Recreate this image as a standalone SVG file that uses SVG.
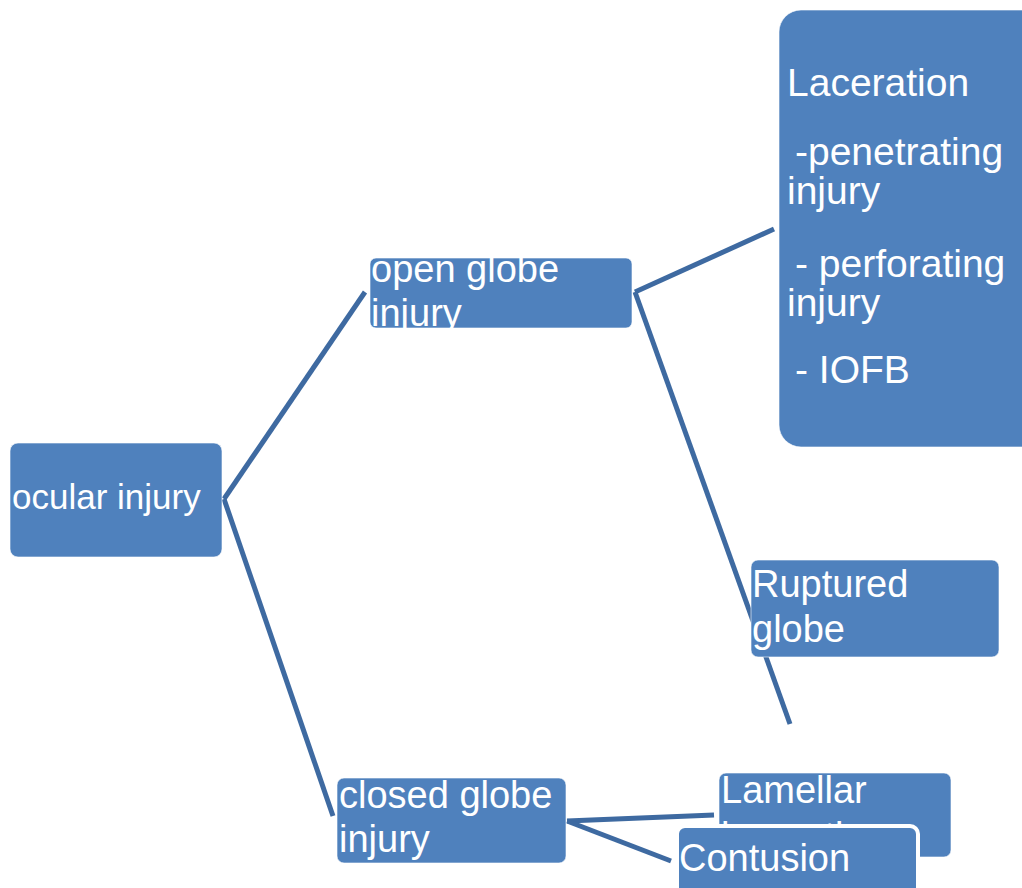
<svg xmlns="http://www.w3.org/2000/svg" width="1022" height="888" viewBox="0 0 1022 888">
<style>
.box{fill:#4f81bd;stroke:#ffffff;stroke-width:1;stroke-opacity:0.6}
.t{font-family:"Liberation Sans",Arial,sans-serif;font-size:38px;fill:#ffffff}
.c{stroke:#3e6aa1;stroke-width:5;fill:none;stroke-linecap:butt}
</style>
<defs>
<clipPath id="cOpen"><rect x="370" y="258" width="262" height="70"/></clipPath>
<clipPath id="cLam"><rect x="719" y="773" width="232" height="84"/></clipPath>
</defs>
<rect width="1022" height="888" fill="#ffffff"/>
<g id="connectors">
<line class="c" x1="224" y1="499" x2="365" y2="292"/>
<line class="c" x1="224" y1="499" x2="333" y2="816"/>
<line class="c" x1="635" y1="292" x2="774" y2="229"/>
<line class="c" x1="635" y1="292" x2="790" y2="724"/>
<line class="c" x1="567" y1="821" x2="714" y2="815"/>
<line class="c" x1="567" y1="821" x2="671" y2="861"/>
</g>
<g id="ocular">
<rect class="box" x="10" y="443" width="212" height="114" rx="8"/>
<text class="t" x="12" y="509" style="font-size:35px">ocular injury</text>
</g>
<g id="open">
<rect class="box" x="370" y="258" width="262" height="70" rx="6"/>
<g clip-path="url(#cOpen)">
<text class="t" x="371" y="282">open globe</text>
<text class="t" x="371" y="326">injury</text>
</g>
</g>
<g id="laceration">
<rect class="box" x="779" y="10" width="270" height="437" rx="22"/>
<text class="t" x="787" y="96" style="font-size:39px">Laceration</text>
<text class="t" x="795" y="165" style="font-size:39px">-penetrating</text>
<text class="t" x="787" y="204" style="font-size:39px">injury</text>
<text class="t" x="795" y="277" style="font-size:39px">- perforating</text>
<text class="t" x="787" y="316" style="font-size:39px">injury</text>
<text class="t" x="795" y="383" style="font-size:39px">- IOFB</text>
</g>
<g id="ruptured">
<rect class="box" x="751" y="560" width="248" height="97" rx="7"/>
<text class="t" x="752" y="597">Ruptured</text>
<text class="t" x="752" y="642">globe</text>
</g>
<g id="closed">
<rect class="box" x="337" y="778" width="229" height="85" rx="7"/>
<text class="t" x="339" y="808">closed globe</text>
<text class="t" x="339" y="852">injury</text>
</g>
<g id="lamellar">
<rect class="box" x="719" y="773" width="232" height="84" rx="7"/>
<g clip-path="url(#cLam)">
<text class="t" x="721" y="803">Lamellar</text>
<text class="t" x="721" y="849">laceration</text>
</g>
</g>
<g id="contusion">
<rect x="677" y="826" width="241" height="80" rx="8" fill="#4f81bd" stroke="#ffffff" stroke-width="4"/>
<text class="t" x="679" y="871">Contusion</text>
</g>
</svg>
